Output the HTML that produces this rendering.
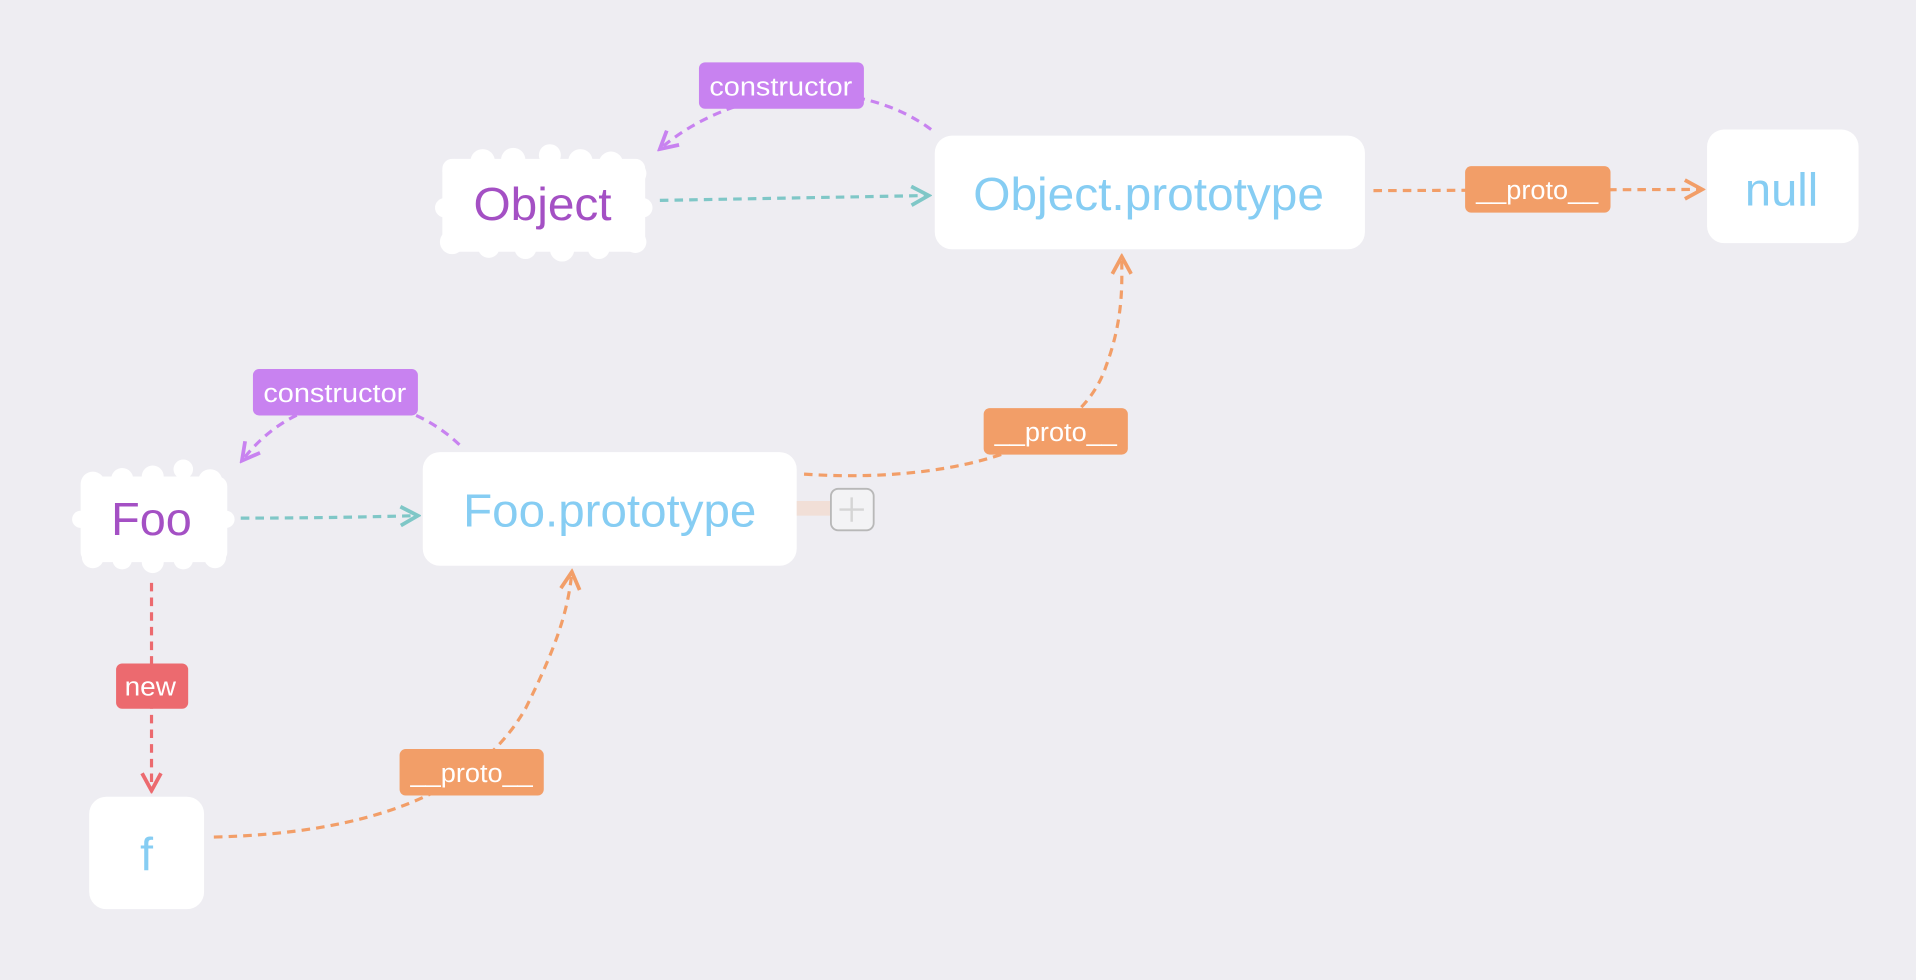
<!DOCTYPE html>
<html><head><meta charset="utf-8"><style>
html,body{margin:0;padding:0;background:#eeedf2;}
svg{display:block;}
text{font-family:"Liberation Sans",sans-serif;}
</style></head><body>
<svg width="1916" height="980" viewBox="0 0 1568 802" preserveAspectRatio="none" xmlns="http://www.w3.org/2000/svg">
<defs>
<marker id="at" viewBox="0 0 14 14" refX="12" refY="7" markerWidth="18" markerHeight="18" markerUnits="userSpaceOnUse" orient="auto"><path d="M1,1 L12,7 L1,13" fill="none" stroke="#7fc7c7" stroke-width="2.4"/></marker>
<marker id="ao" viewBox="0 0 14 14" refX="12" refY="7" markerWidth="18" markerHeight="18" markerUnits="userSpaceOnUse" orient="auto"><path d="M1,1 L12,7 L1,13" fill="none" stroke="#f29e68" stroke-width="2.4"/></marker>
<marker id="ap" viewBox="0 0 14 14" refX="12" refY="7" markerWidth="18" markerHeight="18" markerUnits="userSpaceOnUse" orient="auto"><path d="M1,1 L12,7 L1,13" fill="none" stroke="#c882f0" stroke-width="2.4"/></marker>
<marker id="ar" viewBox="0 0 14 14" refX="12" refY="7" markerWidth="18" markerHeight="18" markerUnits="userSpaceOnUse" orient="auto"><path d="M1,1 L12,7 L1,13" fill="none" stroke="#ec6a6f" stroke-width="2.4"/></marker>
</defs>
<rect width="1568" height="802" fill="#eeedf2"/>

<g fill="none" stroke-width="2.6" stroke-dasharray="7,5">
<path d="M540,164 L760,160" stroke="#7fc7c7" marker-end="url(#at)"/>
<path d="M197,424 C260,424 300,423 342,422" stroke="#7fc7c7" marker-end="url(#at)"/>
<path d="M762,106 C700,60 600,70 540,122" stroke="#c882f0" marker-end="url(#ap)"/>
<path d="M376,364 C330,320 250,310 198,377" stroke="#c882f0" marker-end="url(#ap)"/>
<path d="M1124,156 L1393,155" stroke="#f29e68" marker-end="url(#ao)"/>
<path d="M658,388 C760,395 880,375 905,300 C920,260 918,230 918,210" stroke="#f29e68" marker-end="url(#ao)"/>
<path d="M175,685 C300,682 390,650 430,580 C455,530 465,500 468,468" stroke="#f29e68" marker-end="url(#ao)"/>
<path d="M124,477 L124,647" stroke="#ec6a6f" marker-end="url(#ar)"/>
</g>

<g fill="#fff">
<rect x="362" y="130" width="166" height="76" rx="8"/>
<circle cx="372" cy="140" r="10"/><circle cx="395" cy="132" r="10"/><circle cx="420" cy="131" r="10"/><circle cx="450" cy="127" r="9"/><circle cx="475" cy="132" r="10"/><circle cx="500" cy="134" r="10"/><circle cx="520" cy="142" r="9"/>
<circle cx="370" cy="198" r="10"/><circle cx="400" cy="202" r="9"/><circle cx="430" cy="203" r="9"/><circle cx="460" cy="204" r="10"/><circle cx="490" cy="203" r="9"/><circle cx="520" cy="198" r="9"/>
<circle cx="364" cy="170" r="8"/><circle cx="526" cy="170" r="8"/>
<rect x="66" y="390" width="120" height="70" rx="8"/>
<circle cx="76" cy="396" r="10"/><circle cx="100" cy="392" r="9"/><circle cx="125" cy="390" r="9"/><circle cx="150" cy="384" r="8"/><circle cx="172" cy="394" r="10"/>
<circle cx="76" cy="456" r="9"/><circle cx="100" cy="458" r="8"/><circle cx="125" cy="460" r="9"/><circle cx="150" cy="458" r="8"/><circle cx="176" cy="456" r="9"/>
<circle cx="66" cy="425" r="7"/><circle cx="185" cy="425" r="7"/>
</g>

<g fill="#fff">
<rect x="765" y="111" width="352" height="93" rx="14"/>
<rect x="1397" y="106" width="124" height="93" rx="14"/>
<rect x="346" y="370" width="306" height="93" rx="14"/>
<rect x="73" y="652" width="94" height="92" rx="14"/>
</g>

<rect x="652" y="410" width="30" height="12" fill="#f2d8cc" opacity="0.7"/>
<rect x="680" y="400" width="35" height="34" rx="6" fill="#f3f3f5" stroke="#b8b8b8" stroke-width="1.5"/>
<path d="M697,407 V427 M687,417 H707" stroke="#d5d5d5" stroke-width="2"/>

<g font-size="38" text-anchor="middle">
<text x="444" y="180" fill="#a450c4" textLength="113" lengthAdjust="spacingAndGlyphs">Object</text>
<text x="940" y="172" fill="#86cdf3" textLength="287" lengthAdjust="spacingAndGlyphs">Object.prototype</text>
<text x="1458" y="168" fill="#86cdf3" textLength="60" lengthAdjust="spacingAndGlyphs">null</text>
<text x="124" y="438" fill="#a450c4" textLength="66" lengthAdjust="spacingAndGlyphs">Foo</text>
<text x="499" y="431" fill="#86cdf3" textLength="240" lengthAdjust="spacingAndGlyphs">Foo.prototype</text>
<text x="120" y="712" fill="#86cdf3">f</text>
</g>

<g font-size="21" text-anchor="middle" fill="#fff">
<rect x="572" y="51" width="135" height="38" rx="5" fill="#c882f0"/><text x="639" y="78" textLength="117" lengthAdjust="spacingAndGlyphs">constructor</text>
<rect x="207" y="302" width="135" height="38" rx="5" fill="#c882f0"/><text x="274" y="329" textLength="117" lengthAdjust="spacingAndGlyphs">constructor</text>
<rect x="1199" y="136" width="119" height="38" rx="5" fill="#f29e68"/><text x="1258" y="163" textLength="100" lengthAdjust="spacingAndGlyphs">__proto__</text>
<rect x="805" y="334" width="118" height="38" rx="5" fill="#f29e68"/><text x="864" y="361" textLength="100" lengthAdjust="spacingAndGlyphs">__proto__</text>
<rect x="327" y="613" width="118" height="38" rx="5" fill="#f29e68"/><text x="386" y="640" textLength="100" lengthAdjust="spacingAndGlyphs">__proto__</text>
<rect x="95" y="543" width="59" height="37" rx="5" fill="#ec6a6f"/><text x="123" y="569" textLength="42" lengthAdjust="spacingAndGlyphs">new</text>
</g>
</svg>
</body></html>
